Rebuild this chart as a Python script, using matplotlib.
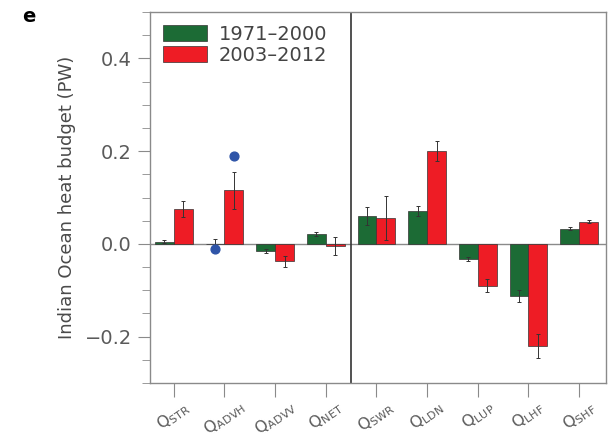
import matplotlib
matplotlib.use("Agg")
import matplotlib.pyplot as plt
import numpy as np
from matplotlib.ticker import MultipleLocator
from matplotlib.patches import Patch

categories = ["STR", "ADVH", "ADVV", "NET", "SWR", "LDN", "LUP", "LHF", "SHF"]
labels = [r"$\mathrm{Q}_{\mathrm{%s}}$" % c for c in categories]
early = [0.005, 0.0, -0.015, 0.021, 0.060, 0.071, -0.033, -0.113, 0.033]
early_err = [0.004, 0.010, 0.005, 0.005, 0.020, 0.011, 0.005, 0.013, 0.003]
late = [0.075, 0.116, -0.038, -0.005, 0.056, 0.200, -0.090, -0.221, 0.048]
late_err = [0.017, 0.040, 0.012, 0.020, 0.047, 0.022, 0.014, 0.026, 0.004]
dot_x = [1, 1]
dot_side = [-1, 1]
dot_y = [-0.011, 0.190]
series_names = ["1971\u20132000", "2003\u20132012"]

green = "#1c6b35"
red = "#ee1c25"
grey = "#8a8a8a"

fig = plt.figure(figsize=(6.16, 4.43), dpi=100)
ax = fig.add_axes([150/616, 1 - 383/443, (606-150)/616, (383-12)/443])

x = np.arange(len(categories))
w = 0.37
ax.axhline(0, color=grey, lw=1.0, zorder=1)
ax.bar(x - w/2, early, w, color=green, edgecolor="#333333", lw=0.5, zorder=2)
ax.bar(x + w/2, late, w, color=red, edgecolor="#333333", lw=0.5, zorder=2)
ax.errorbar(x - w/2, early, yerr=early_err, fmt="none", ecolor="#333333",
            elinewidth=0.7, capsize=1.5, capthick=0.7, zorder=3)
ax.errorbar(x + w/2, late, yerr=late_err, fmt="none", ecolor="#333333",
            elinewidth=0.7, capsize=1.5, capthick=0.7, zorder=3)
ax.scatter(np.array(dot_x) + np.array(dot_side) * w/2, dot_y, s=40,
           color="#2f55a8", zorder=4)
ax.axvline(3.5, color="#333333", lw=1.2, zorder=1)

ax.set_xlim(-0.47, 8.53)
ax.set_ylim(-0.3, 0.5)
ax.yaxis.set_minor_locator(MultipleLocator(0.05))
ax.set_yticks([-0.2, 0.0, 0.2, 0.4])
ax.set_yticklabels(["\u22120.2", "0.0", "0.2", "0.4"])
ax.set_xticks(x)
ax.set_xticklabels(labels, rotation=35, ha="center", va="top")

for s in ax.spines.values():
    s.set_color(grey)
    s.set_linewidth(1.0)
ax.tick_params(axis="both", which="both", direction="out", colors=grey,
               labelcolor="#5a5a5a")
ax.tick_params(axis="y", which="major", length=9, labelsize=14, pad=4)
ax.tick_params(axis="y", which="minor", length=6)
ax.tick_params(axis="x", which="major", length=10, labelsize=11.5, pad=0.5)

ax.set_ylabel("Indian Ocean heat budget (PW)", fontsize=13, color="#4a4a4a", labelpad=6)

handles = [Patch(facecolor=green, edgecolor="#333333", lw=0.5),
           Patch(facecolor=red, edgecolor="#333333", lw=0.5)]
ax.legend(handles, series_names, loc="upper left", frameon=False, fontsize=14,
          handlelength=2.3, handleheight=0.9, handletextpad=0.6,
          labelspacing=0.1, borderaxespad=0.25, labelcolor="#444444")

fig.text(22/616, 1 - 16/443, "e", fontsize=14, fontweight="bold", va="center")

fig.savefig("out.png", dpi=100)
